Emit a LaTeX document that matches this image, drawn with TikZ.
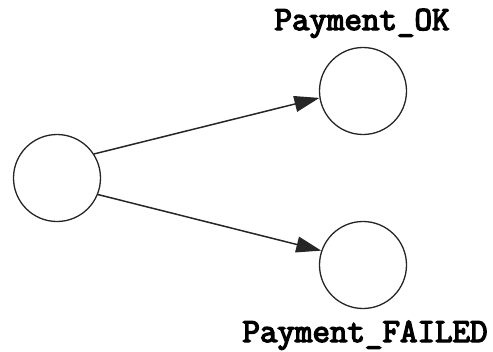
\documentclass[tikz,border=0pt]{standalone}
\usepackage{fontspec}
\newfontfamily\lblfont[AutoFakeBold=4]{Latin Modern Mono}
\usetikzlibrary{arrows.meta}
\begin{document}
\begin{tikzpicture}[x=1pt,y=-1pt,
  state/.style={circle,draw=black!85,line width=1.3pt,minimum size=87pt,inner sep=0pt},
  lbl/.style={font=\lblfont\bfseries\fontsize{34}{40}\selectfont,anchor=base,inner sep=0pt},
  edge/.style={draw=black!85,line width=1.5pt,-{Triangle[length=25pt,width=16pt]}}]
\useasboundingbox (0,0) rectangle (493,351);
\node[state] (s) at (57,178) {};
\node[state] (ok) at (363,91) {};
\node[state] (fail) at (363,265) {};
\node[lbl] (lok) at (362,30) {Payment\_OK};
\node[lbl] (lfail) at (365,342) {Payment\_FAILED};
\draw[edge] (s.33) -- (ok.189);
\draw[edge] (s.-22) -- (fail.161);
\end{tikzpicture}
\end{document}
